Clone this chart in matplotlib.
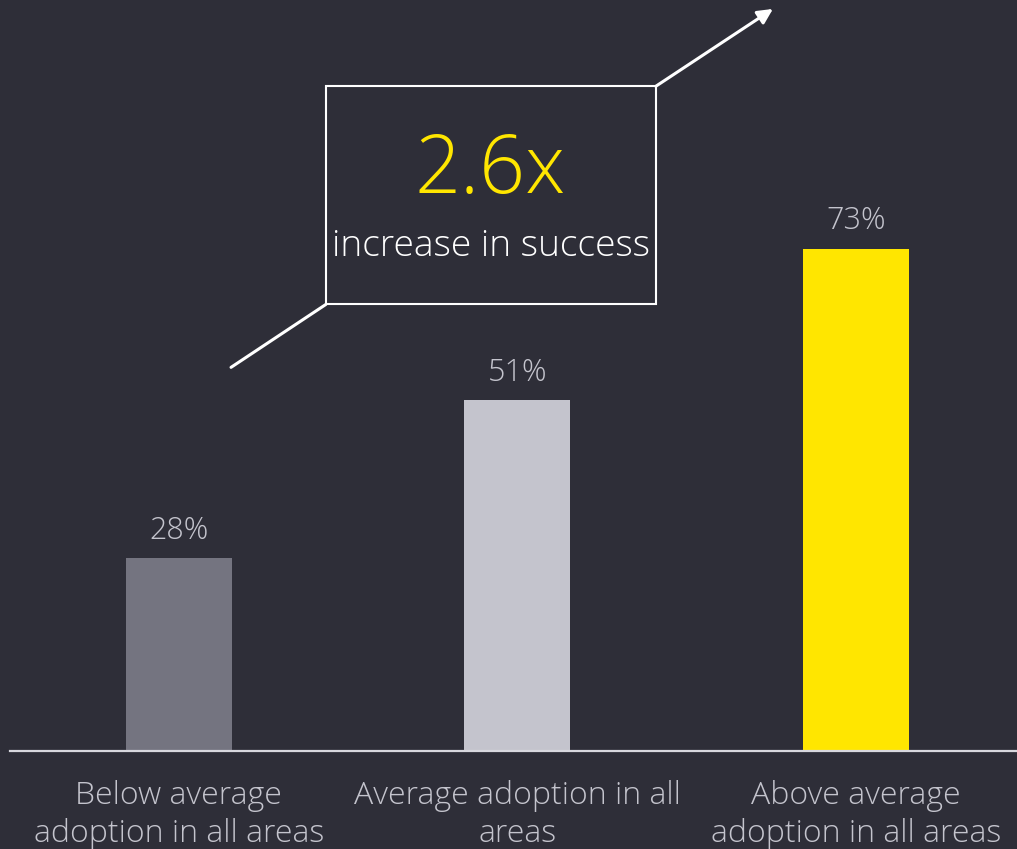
import matplotlib
matplotlib.use('Agg')
import matplotlib.pyplot as plt
from matplotlib.patches import Rectangle

categories = ['Below average\nadoption in all areas',
              'Average adoption in all\nareas',
              'Above average\nadoption in all areas']
values = [28, 51, 73]
colors = ['#747480', '#c4c4cd', '#ffe600']
value_labels = ['28%', '51%', '73%']

bg = '#2e2e38'
light = '#c4c4cd'
plt.rcParams['font.family'] = ['Open Sans', 'DejaVu Sans']

fig = plt.figure(figsize=(10.17, 8.49), dpi=100)
fig.patch.set_facecolor(bg)

# axes placed so the baseline sits at ~750px from the top
ax = fig.add_axes([10 / 1017, 98.5 / 849, 1007 / 1017, 750.5 / 849])
ax.set_facecolor(bg)

x = range(len(categories))
bars = ax.bar(x, values, width=0.313, color=colors, zorder=2)

ax.set_xlim(-0.499, 2.476)
ax.set_ylim(0, 109.2)

for b, lab in zip(bars, value_labels):
    ax.annotate(lab, (b.get_x() + b.get_width() / 2, b.get_height()),
                xytext=(0, 14), textcoords='offset points',
                ha='center', va='baseline', fontsize=22,
                color=light, fontweight='light')

ax.set_xticks(list(x))
ax.set_xticklabels(categories, fontsize=23, color=light, fontweight='light',
                   linespacing=1.28)
ax.tick_params(axis='x', length=0, pad=21)
ax.set_yticks([])

for s in ['top', 'right', 'left']:
    ax.spines[s].set_visible(False)
ax.spines['bottom'].set_color('#d8d8de')
ax.spines['bottom'].set_linewidth(1.6)

# callout box with arrow
ax.add_patch(Rectangle((0.434, 64.9), 0.975, 31.75, fill=False,
                       edgecolor='white', linewidth=1.5, zorder=3))
ax.plot([0.154, 0.434], [55.75, 64.9], color='white', linewidth=2.2,
        solid_capstyle='round', zorder=3)
ax.annotate('', xy=(1.755, 107.9), xytext=(1.409, 96.65),
            arrowprops=dict(arrowstyle='-|>,head_length=0.9,head_width=0.45',
                            color='white', lw=2.2, shrinkA=0, shrinkB=0))

ax.text(0.919, 81.1, '2.6x', ha='center', va='baseline', fontsize=58,
        color='#ffe600', fontweight='light')
ax.text(0.922, 71.9, 'increase in success', ha='center', va='baseline',
        fontsize=26.8, color='white', fontweight='light')

fig.savefig('out.png', dpi=100, facecolor=bg)
